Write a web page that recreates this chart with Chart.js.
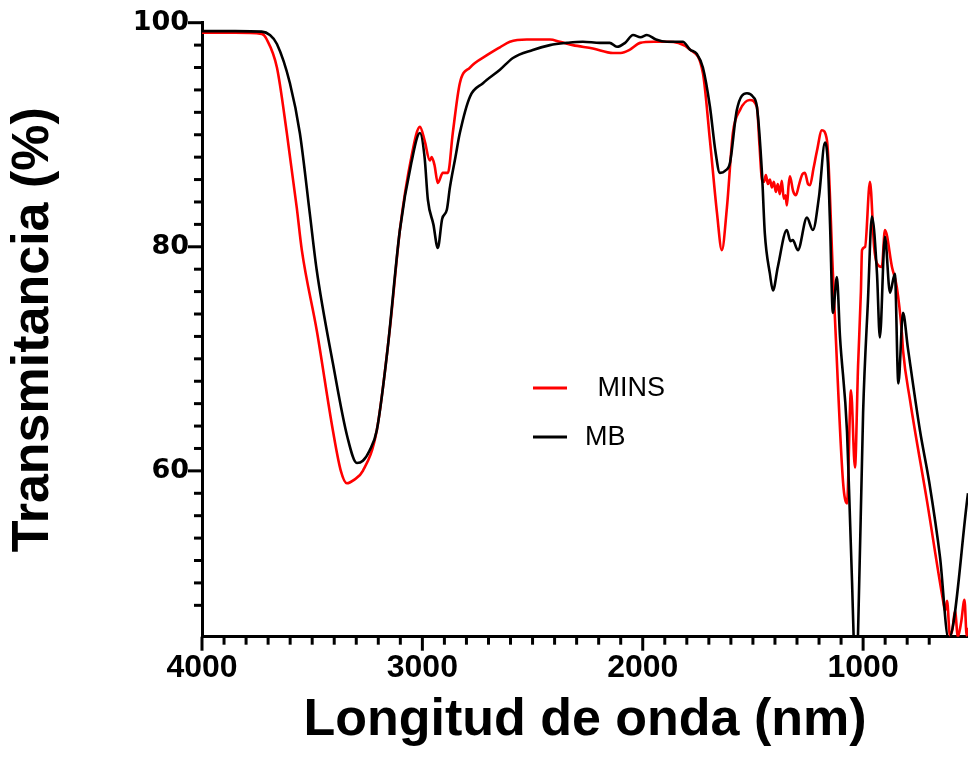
<!DOCTYPE html>
<html>
<head>
<meta charset="utf-8">
<script src="https://cdn.jsdelivr.net/npm/chart.js@4/dist/chart.umd.min.js"></script>
<style>
  html, body { margin: 0; padding: 0; background: #fff; }
  #wrap { width: 968px; height: 761px; }
</style>
</head>
<body>
<div id="wrap"><canvas id="ftir" width="968" height="761"></canvas></div>
<script>
// MB (negro) - longitud de onda / transmitancia
const mbWave = [4000, 3850, 3729, 3692, 3660, 3601, 3556, 3511, 3480, 3406, 3340, 3297, 3270, 3240, 3207, 3160, 3102, 3050, 3011, 2990, 2975, 2950, 2930, 2910, 2889, 2875, 2850, 2830, 2784, 2725, 2648, 2589, 2499, 2421, 2344, 2272, 2194, 2150, 2117, 2080, 2044, 2010, 1981, 1940, 1890, 1818, 1786, 1754, 1727, 1695, 1670, 1650, 1625, 1604, 1573, 1527, 1500, 1482, 1459, 1446, 1423, 1409, 1387, 1346, 1330, 1319, 1296, 1255, 1228, 1200, 1173, 1160, 1150, 1137, 1119, 1105, 1073, 1065, 1050, 1043, 1037, 1030, 1023, 1000, 978, 960, 937, 924, 901, 878, 856, 840, 819, 797, 742, 700, 651, 612, 524];
const mbTrans = [99.25, 99.25, 99.2, 98.9, 98.1, 94.6, 90.15, 83.0, 78.0, 69.6, 63.0, 60.7, 60.9, 61.8, 63.6, 70.5, 81.5, 87.5, 90.15, 88.0, 84.2, 82.0, 79.9, 82.5, 83.3, 85.3, 88.0, 90.15, 93.4, 94.6, 95.8, 96.85, 97.56, 98.0, 98.2, 98.3, 98.2, 98.2, 97.85, 98.2, 98.9, 98.7, 98.9, 98.5, 98.3, 98.3, 97.6, 97.2, 96.0, 92.5, 88.5, 86.6, 86.8, 87.5, 92.2, 93.7, 93.4, 92.5, 86.6, 81.2, 77.6, 76.1, 78.2, 81.5, 80.5, 80.6, 79.7, 82.6, 81.5, 84.5, 89.3, 87.5, 82.0, 74.1, 77.3, 72.0, 63.5, 59.0, 50.0, 45.2, 42.0, 43.0, 45.5, 65.2, 75.2, 82.7, 77.6, 71.9, 80.9, 75.9, 77.6, 67.8, 74.1, 71.0, 63.6, 59.0, 52.3, 45.0, 58.0];

// MINS (rojo)
const minsWave = [4000, 3850, 3729, 3706, 3660, 3615, 3570, 3547, 3479, 3406, 3370, 3343, 3310, 3270, 3207, 3148, 3102, 3050, 3011, 2990, 2966, 2958, 2945, 2930, 2907, 2884, 2862, 2830, 2784, 2707, 2648, 2603, 2526, 2421, 2376, 2317, 2226, 2135, 2100, 2058, 2012, 1950, 1890, 1786, 1727, 1695, 1663, 1641, 1618, 1591, 1559, 1514, 1482, 1470, 1459, 1450, 1441, 1432, 1423, 1414, 1405, 1396, 1387, 1378, 1369, 1360, 1352, 1346, 1338, 1332, 1318, 1305, 1290, 1275, 1264, 1250, 1241, 1225, 1210, 1187, 1164, 1137, 1128, 1091, 1073, 1055, 1037, 1023, 1010, 1005, 991, 969, 950, 937, 915, 901, 869, 847, 824, 819, 787, 710, 637, 628, 619, 606, 595, 583, 570, 555, 540, 530, 524];
const minsTrans = [99.1, 99.1, 99.0, 98.5, 96.0, 90.15, 83.5, 79.7, 72.5, 63.6, 60.0, 58.9, 59.2, 60.0, 63.6, 72.6, 81.5, 88.0, 90.7, 89.5, 87.7, 88.0, 87.3, 85.7, 86.6, 86.6, 90.15, 94.6, 96.0, 97.1, 97.8, 98.3, 98.5, 98.5, 98.3, 98.0, 97.7, 97.3, 97.3, 97.6, 98.2, 98.3, 98.3, 97.6, 95.5, 89.5, 83.0, 79.7, 83.5, 90.15, 92.2, 93.1, 92.5, 89.0, 86.0, 85.8, 86.4, 85.6, 86.0, 85.3, 85.8, 84.9, 85.6, 84.7, 85.9, 84.3, 84.6, 83.7, 85.5, 86.3, 85.0, 84.6, 85.6, 86.5, 86.6, 85.6, 85.5, 87.0, 88.5, 90.4, 89.5, 77.6, 73.7, 59.0, 57.1, 67.2, 60.3, 69.3, 76.0, 79.7, 80.0, 85.8, 80.0, 78.5, 78.2, 81.5, 78.2, 76.4, 72.3, 70.8, 66.3, 57.3, 48.4, 47.5, 48.4, 45.3, 45.8, 47.5, 45.2, 46.5, 48.5, 45.3, 46.0];

const xMajorTicks = [4000, 3000, 2000, 1000];
const yMajorTicks = [100, 80, 60];
const seriesNames = [' MINS', 'MB'];

const toPoints = (xs, ys) => xs.map((x, i) => ({ x: x, y: ys[i] }));

// marcas de los ejes (menores y mayores)
const tickMarks = {
  id: 'tickMarks',
  afterDraw(chart) {
    const { ctx, chartArea, scales } = chart;
    ctx.save();
    ctx.strokeStyle = '#000';
    ctx.lineWidth = 3;
    scales.x.ticks.forEach(t => {
      if (t.value % 100 !== 0) return;
      const px = scales.x.getPixelForValue(t.value);
      const len = xMajorTicks.includes(t.value) ? 14 : 8;
      ctx.beginPath();
      ctx.moveTo(px, chartArea.bottom);
      ctx.lineTo(px, chartArea.bottom + len);
      ctx.stroke();
    });
    scales.y.ticks.forEach(t => {
      if (t.value % 2 !== 0) return;
      const py = scales.y.getPixelForValue(t.value);
      const len = yMajorTicks.includes(t.value) ? 14 : 8;
      ctx.beginPath();
      ctx.moveTo(chartArea.left, py);
      ctx.lineTo(chartArea.left - len, py);
      ctx.stroke();
    });
    ctx.restore();
  }
};

// leyenda dentro del área
const insideLegend = {
  id: 'insideLegend',
  afterDraw(chart) {
    const { ctx } = chart;
    const rows = [
      { color: '#ff0000', y: 388, tx: 590 },
      { color: '#000000', y: 437, tx: 585 }
    ];
    ctx.save();
    ctx.font = '27px "Liberation Sans", Arial, sans-serif';
    ctx.textBaseline = 'middle';
    ctx.fillStyle = '#000';
    rows.forEach((r, i) => {
      ctx.strokeStyle = r.color;
      ctx.lineWidth = 3;
      ctx.beginPath();
      ctx.moveTo(533, r.y);
      ctx.lineTo(567, r.y);
      ctx.stroke();
      ctx.fillText(seriesNames[i], r.tx, r.y + 1);
    });
    ctx.restore();
  }
};

Chart.defaults.font.family = '"Liberation Sans", Arial, sans-serif';
Chart.defaults.color = '#000';

const chart = new Chart(document.getElementById('ftir'), {
  type: 'scatter',
  data: {
    datasets: [
      {
        label: 'MB',
        data: toPoints(mbWave, mbTrans),
        showLine: true,
        borderColor: '#000000',
        borderWidth: 2.6,
        pointRadius: 0,
        cubicInterpolationMode: 'monotone'
      },
      {
        label: 'MINS',
        data: toPoints(minsWave, minsTrans),
        showLine: true,
        borderColor: '#ff0000',
        borderWidth: 2.6,
        pointRadius: 0,
        cubicInterpolationMode: 'monotone'
      }
    ]
  },
  options: {
    responsive: false,
    animation: false,
    events: [],
    layout: { padding: { top: 22.7, right: 0, left: 0, bottom: 0 } },
    plugins: { legend: { display: false }, tooltip: { enabled: false } },
    scales: {
      x: {
        type: 'linear',
        reverse: true,
        min: 524,
        max: 4000,
        grid: { display: false, drawTicks: false },
        border: { display: true, color: '#000', width: 3 },
        ticks: {
          stepSize: 100,
          autoSkip: false,
          maxRotation: 0,
          padding: 12,
          font: { size: 32, weight: 'bold' },
          callback: v => (xMajorTicks.includes(v) ? String(v) : '')
        },
        title: {
          display: true,
          text: 'Longitud de onda (nm)',
          font: { size: 52, weight: 'bold' },
          padding: { top: 0, bottom: 9 }
        },
        afterFit(scale) {
          scale.height = 124.3;
          scale.paddingLeft = 0;
          scale.paddingRight = 0;
        }
      },
      y: {
        type: 'linear',
        min: 45.2,
        max: 100,
        grid: { display: false, drawTicks: false },
        border: { display: true, color: '#000', width: 3 },
        ticks: {
          stepSize: 2,
          autoSkip: false,
          padding: 13,
          font: { family: '"DejaVu Sans"', size: 27, weight: 'bold' },
          callback: v => (yMajorTicks.includes(v) ? String(v) : '')
        },
        title: {
          display: true,
          text: 'Transmitancia (%)',
          font: { size: 52, weight: 'bold' },
          padding: { top: 2, bottom: 0 }
        },
        afterFit(scale) {
          scale.width = 202;
          scale.paddingTop = 0;
          scale.paddingBottom = 0;
        }
      }
    }
  },
  plugins: [tickMarks, insideLegend]
});
</script>
</body>
</html>
